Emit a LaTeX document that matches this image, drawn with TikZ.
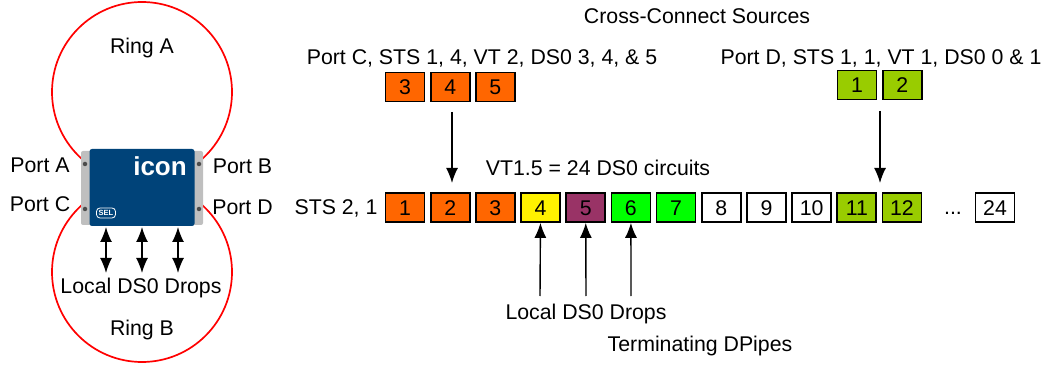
\documentclass[tikz,border=0pt]{standalone}
\usepackage{fontspec}
\setmainfont{Liberation Sans}
\usetikzlibrary{shapes,arrows,arrows.meta}

\definecolor{srcorange}{HTML}{FF6600}
\definecolor{srcgreen}{HTML}{99CC00}
\definecolor{dropplum}{HTML}{993366}
\definecolor{iconblue}{HTML}{004379}

\begin{document}
\begin{tikzpicture}[x=1pt, y=-1pt, node distance = 45.18pt, font=\fontsize{21.3}{24}\selectfont]
        \tikzstyle{slot} = [rectangle, draw, line width=1.7pt, minimum width=39pt, minimum height=29pt, inner sep=0pt, text height=15.3pt, text depth=0pt]
        \tikzstyle{ring} = [circle, draw=red, line width=1.7pt, minimum size=180pt, inner sep=0pt]
        \tikzstyle{label} = [inner sep=0pt]
        \tikzstyle{line} = [draw, line width=1.4pt, -{Latex[length=15pt, width=12pt]}]
        \tikzstyle{drop} = [draw, line width=1.4pt, {Latex[length=15pt, width=12pt]}-{Latex[length=15pt, width=12pt]}]
        \tikzstyle{port} = [circle, fill=black!70, minimum size=4.5pt, inner sep=0pt]

        \useasboundingbox (0,0) rectangle (1047,366);

        % rings and device
        \node [ring] (ring_a) at (142,92) {};
        \node [ring] (ring_b) at (142,272) {};
        \node [rectangle, fill=black!25, rounded corners=2pt, minimum width=122pt, minimum height=74pt, inner sep=0pt] (chassis) at (142,188) {};
        \node [rectangle, fill=iconblue, rounded corners=2.5pt, minimum width=105pt, minimum height=77pt, inner sep=0pt] (device) at (142,187.5) {};
        \node [port] (port_a) at (85,164) {};
        \node [port] (port_b) at (199,164) {};
        \node [port] (port_c) at (85,209) {};
        \node [port] (port_d) at (199,209) {};
        \node [label, text=white, font=\fontsize{26}{28}\selectfont\bfseries] (icon_logo) at (160,166) {icon};
        \node [rectangle, draw=white, fill=iconblue, line width=0.8pt, rounded corners=3.5pt, text=white, font=\fontsize{7.5}{8}\selectfont\bfseries, minimum width=19pt, minimum height=10pt, inner sep=0pt] (sel_logo) at (106,213) {SEL};

        \node [label] (ring_a_label) at (142,48) {Ring A};
        \node [label] (ring_b_label) at (142,330) {Ring B};
        \node [label] (port_a_label) at (40,165) {Port A};
        \node [label] (port_b_label) at (242.5,166) {Port B};
        \node [label] (port_c_label) at (40,204) {Port C};
        \node [label] (port_d_label) at (242.5,207) {Port D};
        \node [label] (local_left) at (141,288) {Local DS0 Drops};

        \coordinate (drop_a) at (106,273);
        \coordinate (drop_b) at (142,273);
        \coordinate (drop_c) at (178,273);
        \coordinate (device_a) at (106,227);
        \coordinate (device_b) at (142,227);
        \coordinate (device_c) at (178,227);

        % sources
        \node [label] (title) at (697,16) {Cross-Connect Sources};
        \node [label] (port_c_text) at (482,58) {Port C, STS 1, 4, VT 2, DS0 3, 4, \& 5};
        \node [label] (port_d_text) at (881,58) {Port D, STS 1, 1, VT 1, DS0 0 \& 1};

        \node [slot, fill=srcorange] (src_c3) at (405,87) {3};
        \node [slot, fill=srcorange, right of=src_c3] (src_c4) {4};
        \node [slot, fill=srcorange, right of=src_c4] (src_c5) {5};
        \node [slot, fill=srcgreen] (src_d1) at (857,85) {1};
        \node [slot, fill=srcgreen, right of=src_d1] (src_d2) {2};

        % STS 2, 1 row
        \node [label] (row_label) at (336,208) {STS 2, 1};
        \node [label] (vt_text) at (598,168) {VT1.5 = 24 DS0 circuits};
        \node [slot, fill=srcorange] (ds0_1) at (405,207.5) {1};
        \node [slot, fill=srcorange, right of=ds0_1] (ds0_2) {2};
        \node [slot, fill=srcorange, right of=ds0_2] (ds0_3) {3};
        \node [slot, fill=yellow, right of=ds0_3] (ds0_4) {4};
        \node [slot, fill=dropplum, right of=ds0_4] (ds0_5) {5};
        \node [slot, fill=green, right of=ds0_5] (ds0_6) {6};
        \node [slot, fill=green, right of=ds0_6] (ds0_7) {7};
        \node [slot, right of=ds0_7] (ds0_8) {8};
        \node [slot, right of=ds0_8] (ds0_9) {9};
        \node [slot, right of=ds0_9] (ds0_10) {10};
        \node [slot, fill=srcgreen, right of=ds0_10] (ds0_11) {11};
        \node [slot, fill=srcgreen, right of=ds0_11] (ds0_12) {12};
        \node [label] (ds0_dots) at (953,213) {...};
        \node [slot] (ds0_24) at (995,207.5) {24};

        \node [label] (local_right) at (586,313.5) {Local DS0 Drops};
        \node [label] (dpipes) at (700,345.5) {Terminating DPipes};

        \coordinate (c_start) at (452,112);
        \coordinate (c_end) at (452,183);
        \coordinate (d_start) at (880,111);
        \coordinate (d_end) at (880,183);
        \coordinate (local_4) at (540,296);
        \coordinate (local_5) at (586,296);
        \coordinate (local_6) at (631,296);

        \path [drop] (device_a) -- (drop_a);
        \path [drop] (device_b) -- (drop_b);
        \path [drop] (device_c) -- (drop_c);
        \path [line] (c_start) -- (c_end);
        \path [line] (d_start) -- (d_end);
        \path [line] (local_4) -- (ds0_4);
        \path [line] (local_5) -- (ds0_5);
        \path [line] (local_6) -- (ds0_6);

    \end{tikzpicture}
\end{document}
